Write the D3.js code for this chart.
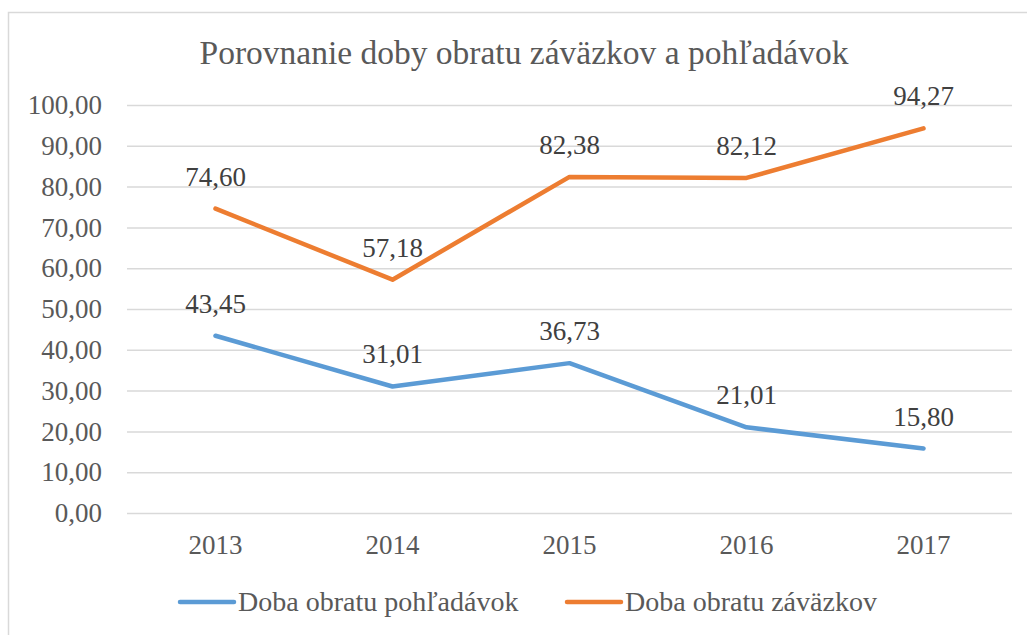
<!DOCTYPE html>
<html><head><meta charset="utf-8">
<script src="https://cdn.jsdelivr.net/npm/d3@7"></script>
<style>html,body{margin:0;padding:0;background:#fff}</style>
</head><body>
<svg id="c" width="1027" height="635"></svg>
<script>
const title = "Porovnanie doby obratu záväzkov a pohľadávok";
const years = ["2013","2014","2015","2016","2017"];
const seriesNames = ["Doba obratu pohľadávok","Doba obratu záväzkov"];
const pohladavky = [43.45, 31.01, 36.73, 21.01, 15.80];
const zavazky = [74.60, 57.18, 82.38, 82.12, 94.27];
const yTicks = [0,10,20,30,40,50,60,70,80,90,100];
const colors = ["#5B9BD5","#ED7D31"];

const svg = d3.select("#c");
const font = '"Liberation Serif","Tinos","Times New Roman","Noto Serif","FreeSerif","DejaVu Serif",Times,Georgia,serif';
const textColor = "#595959";
const fmt = v => v.toFixed(2).replace(".", ",");

// outer border
svg.append("rect").attr("x",8.5).attr("y",12.5).attr("width",1040).attr("height",640)
  .attr("fill","#fff").attr("stroke","#D9D9D9").attr("stroke-width",1.5);

const x = d3.scaleBand().domain(years).range([127,1012]);
const y = d3.scaleLinear().domain([0,100]).range([513,105]);

svg.append("text").attr("x",524).attr("y",64).attr("text-anchor","middle")
  .style("font-family",font).attr("font-size",33.5).attr("fill",textColor).text(title);

// gridlines
const yAxis = d3.axisLeft(y).tickValues(yTicks).tickSize(-(1012-127)).tickFormat(fmt).tickPadding(25);
const gy = svg.append("g").attr("transform","translate(127,0)").call(yAxis);
gy.select(".domain").remove();
gy.selectAll(".tick line").attr("stroke","#D9D9D9").attr("stroke-width",1.5);
gy.selectAll(".tick text").style("font-family",font).attr("font-size",27).attr("fill",textColor);

const xAxis = d3.axisBottom(x).tickSize(0).tickPadding(22);
const gx = svg.append("g").attr("transform","translate(0,513)").call(xAxis);
gx.select(".domain").remove();
gx.selectAll(".tick text").style("font-family",font).attr("font-size",27).attr("fill",textColor);

const series = [pohladavky, zavazky];
const line = d3.line().x((d,i)=>x(years[i])+x.bandwidth()/2).y(d=>y(d));
series.forEach((s,k)=>{
  svg.append("path").datum(s).attr("d",line).attr("fill","none")
    .attr("stroke",colors[k]).attr("stroke-width",4.5)
    .attr("stroke-linecap","round").attr("stroke-linejoin","round");
  svg.append("g").selectAll("text").data(s).join("text")
    .attr("x",(d,i)=>x(years[i])+x.bandwidth()/2)
    .attr("y",d=>y(d)-23)
    .attr("text-anchor","middle").style("font-family",font).attr("font-size",27)
    .attr("fill","#404040").text(fmt);
});

// legend
const legendX = [180, 567];
seriesNames.forEach((n,k)=>{
  svg.append("line").attr("x1",legendX[k]).attr("x2",legendX[k]+54)
    .attr("y1",602).attr("y2",602).attr("stroke",colors[k]).attr("stroke-width",4.5)
    .attr("stroke-linecap","round");
  svg.append("text").attr("x",legendX[k]+58).attr("y",611)
    .style("font-family",font).attr("font-size",28).attr("fill",textColor).text(n);
});
</script>
</body></html>
